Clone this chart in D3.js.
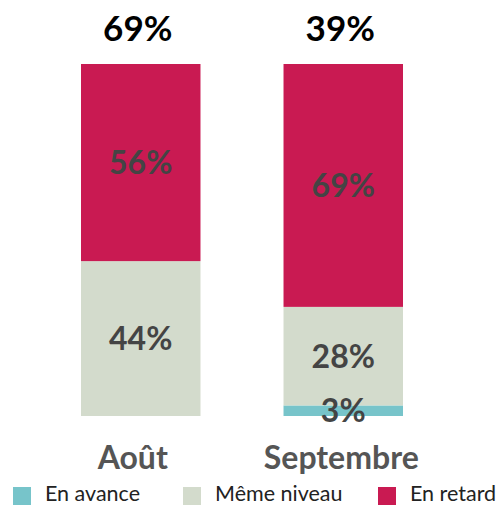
<!DOCTYPE html>
<html>
<head>
<meta charset="utf-8">
<script src="https://cdn.jsdelivr.net/npm/d3@7"></script>
<style>
    body { margin: 0; background: #fff; }
    svg { display: block; }
</style>
</head>
<body>
<svg id="drawing_region"></svg>
<script>
const months = ['Août', 'Septembre'];
const series = ['En avance', 'Même niveau', 'En retard'];
const colors = ['#77c4ca', '#d3dbcc', '#c91a52'];
const enAvance = [0, 3];
const memeNiveau = [44, 28];
const enRetard = [56, 69];
const totals = ['69%', '39%'];

const config = {
    width: 504,
    height: 507,
    top: 64,
    bottom: 416
};

const data = months.map((m, i) => ({
    month: m,
    'En avance': enAvance[i],
    'Même niveau': memeNiveau[i],
    'En retard': enRetard[i]
}));

const svg = d3.select('#drawing_region')
    .attr('width', config.width)
    .attr('height', config.height);

const xscale = d3.scaleBand()
    .domain(months)
    .range([81, 403])
    .paddingInner(0.41)
    .paddingOuter(0);

const yscale = d3.scaleLinear()
    .domain([0, 100])
    .range([config.bottom, config.top]);

const stack = d3.stack().keys(series)(data);

const layers = svg.selectAll('g.layer')
    .data(stack)
    .join('g')
    .attr('class', 'layer')
    .attr('fill', (d, i) => colors[i]);

layers.selectAll('rect')
    .data(d => d)
    .join('rect')
    .attr('x', d => xscale(d.data.month))
    .attr('width', xscale.bandwidth())
    .attr('y', d => yscale(d[1]))
    .attr('height', d => yscale(d[0]) - yscale(d[1]));

// labels inside segments, drawn after every bar
const segments = stack.flat().filter(s => s[1] - s[0] > 0);
svg.append('g')
    .selectAll('text')
    .data(segments)
    .join('text')
    .attr('x', d => xscale(d.data.month) + xscale.bandwidth() / 2)
    .attr('y', d => (yscale(d[0]) + yscale(d[1])) / 2)
    .attr('dy', '0.36em')
    .attr('text-anchor', 'middle')
    .attr('fill', '#444')
    .attr('font-family', 'Lato, sans-serif')
    .attr('font-weight', 'bold')
    .attr('font-size', '32px')
    .text(d => (d[1] - d[0]) + '%');

// totals on top
svg.selectAll('text.total')
    .data(months)
    .join('text')
    .attr('class', 'total')
    .attr('x', d => xscale(d) + xscale.bandwidth() / 2 - 3)
    .attr('y', 41)
    .attr('text-anchor', 'middle')
    .attr('fill', '#000')
    .attr('font-family', 'Lato, sans-serif')
    .attr('font-weight', 'bold')
    .attr('font-size', '35px')
    .text((d, i) => totals[i]);

// month labels
const xaxis = d3.axisBottom(xscale).tickSize(0).tickPadding(0);
const xaxis_group = svg.append('g')
    .attr('transform', `translate(0, ${config.bottom + 53})`)
    .call(xaxis);
xaxis_group.select('.domain').remove();
xaxis_group.selectAll('text')
    .attr('dy', 0)
    .attr('dx', (d, i) => i === 0 ? -8 : -2)
    .attr('fill', '#555')
    .attr('font-family', 'Lato, sans-serif')
    .attr('font-weight', 'bold')
    .attr('font-size', '32px');

// legend
const legendX = [13, 183, 378];
const legend = svg.selectAll('g.legend')
    .data(series)
    .join('g')
    .attr('class', 'legend')
    .attr('transform', (d, i) => `translate(${legendX[i]}, 486)`);

legend.append('rect')
    .attr('y', 1)
    .attr('width', 18)
    .attr('height', 18)
    .attr('fill', (d, i) => colors[i]);

legend.append('text')
    .attr('x', 32)
    .attr('y', 15)
    .attr('fill', '#222')
    .attr('font-family', 'Lato, sans-serif')
    .attr('font-size', '21.5px')
    .text(d => d);
</script>
</body>
</html>
